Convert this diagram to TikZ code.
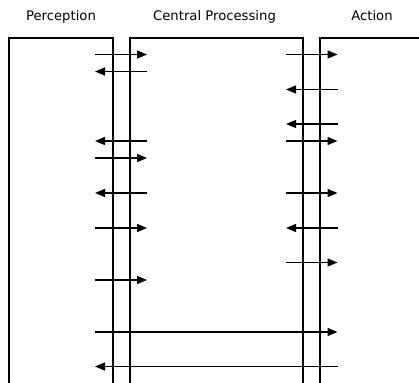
\documentclass[tikz,border=0pt]{standalone}
\usepackage{fontspec}
\setmainfont{DejaVu Sans}
\usetikzlibrary{arrows.meta}
\begin{document}
\begin{tikzpicture}[x=1pt,y=-1pt,
  box/.style={line width=1.4pt},
  conn/.style={line width=1.4pt,-{Triangle[length=10pt,width=8pt]}},
  title/.style={font=\fontsize{13.2}{15}\selectfont,anchor=base,inner sep=0pt}]
\useasboundingbox (0,0) rectangle (419,382);
% titles
\node[title] (tp) at (61,21) {Perception};
\node[title] (tc) at (214.5,21) {Central Processing};
\node[title] (ta) at (372,21) {Action};
% boxes (open at the bottom / right)
\draw[box] (9,383) -- (9,38) -- (113,38) -- (113,383);
\draw[box] (130,383) -- (130,38) -- (303,38) -- (303,383);
\draw[box] (320,383) -- (320,38) -- (420,38);
% connector end points
\foreach \n/\y in {a/54.5,b/71.5,c/141,d/158,e/193,f/228,g/280}{
  \coordinate (L\n) at (95,\y);
  \coordinate (M\n) at (147,\y);
}
\foreach \n/\y in {a/54.5,b/89.5,c/124,d/141,e/193,f/228,g/262.5}{
  \coordinate (P\n) at (286,\y);
  \coordinate (Q\n) at (337.5,\y);
}
\coordinate (Xa) at (95,332);
\coordinate (Ya) at (337.5,332);
\coordinate (Xb) at (95,366.5);
\coordinate (Yb) at (337.5,366.5);
% left connectors
\draw[conn] (La) -- (Ma);
\draw[conn] (Mb) -- (Lb);
\draw[conn] (Mc) -- (Lc);
\draw[conn] (Ld) -- (Md);
\draw[conn] (Me) -- (Le);
\draw[conn] (Lf) -- (Mf);
\draw[conn] (Lg) -- (Mg);
% right connectors
\draw[conn] (Pa) -- (Qa);
\draw[conn] (Qb) -- (Pb);
\draw[conn] (Qc) -- (Pc);
\draw[conn] (Pd) -- (Qd);
\draw[conn] (Pe) -- (Qe);
\draw[conn] (Qf) -- (Pf);
\draw[conn] (Pg) -- (Qg);
% long connectors
\draw[conn] (Xa) -- (Ya);
\draw[conn] (Yb) -- (Xb);
\end{tikzpicture}
\end{document}
